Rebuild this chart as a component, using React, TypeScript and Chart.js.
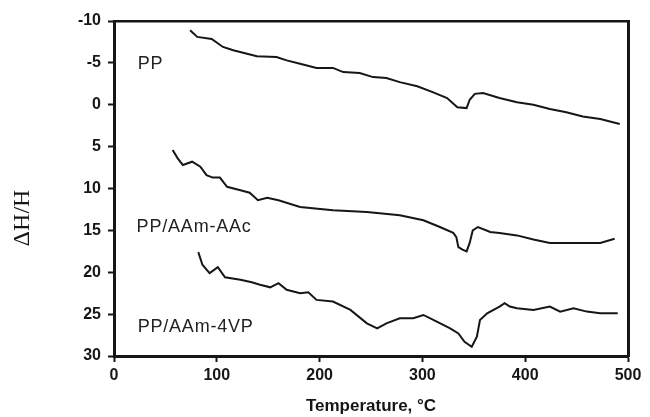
import React, { useEffect, useRef } from "react";
import { Chart, registerables } from "chart.js";

Chart.register(...registerables);

// ---- data ----
const ppX = [74, 81, 95, 106, 116, 139, 158, 168, 181, 197, 213, 223, 239, 252, 265, 278, 295, 310, 324, 334, 343, 346, 351, 359, 375, 392, 408, 424, 440, 456, 473, 492];
const ppY = [-8.9, -8.1, -7.85, -6.9, -6.5, -5.8, -5.7, -5.3, -4.9, -4.4, -4.4, -3.9, -3.8, -3.3, -3.2, -2.7, -2.2, -1.5, -0.8, 0.3, 0.4, -0.6, -1.3, -1.4, -0.8, -0.3, 0, 0.5, 0.9, 1.4, 1.7, 2.3];

const aacX = [57, 62, 67, 76, 84, 90, 96, 103, 110, 123, 132, 140, 149, 160, 181, 213, 246, 278, 301, 317, 330, 333, 335, 339, 343, 346, 349, 354, 366, 375, 392, 408, 424, 440, 456, 473, 487];
const aacY = [5.4, 6.4, 7.2, 6.8, 7.4, 8.4, 8.7, 8.7, 9.8, 10.2, 10.5, 11.4, 11.1, 11.4, 12.2, 12.6, 12.8, 13.2, 13.8, 14.6, 15.3, 15.8, 17.0, 17.3, 17.5, 16.5, 15.0, 14.6, 15.2, 15.3, 15.6, 16.1, 16.5, 16.5, 16.5, 16.5, 16.0];

const vpX = [82, 86, 93, 101, 108, 123, 134, 142, 152, 160, 168, 181, 189, 197, 213, 230, 246, 256, 265, 278, 291, 301, 314, 327, 335, 341, 348, 353, 356, 363, 375, 380, 385, 392, 408, 424, 434, 447, 460, 473, 490];
const vpY = [17.6, 19.1, 20.1, 19.4, 20.6, 20.9, 21.2, 21.5, 21.8, 21.3, 22.1, 22.5, 22.4, 23.3, 23.5, 24.5, 26.1, 26.7, 26.1, 25.5, 25.5, 25.1, 25.9, 26.7, 27.3, 28.3, 28.9, 27.7, 25.7, 24.9, 24.1, 23.7, 24.1, 24.3, 24.5, 24.1, 24.7, 24.3, 24.7, 24.9, 24.9];

const seriesNames = ["PP", "PP/AAm-AAc", "PP/AAm-4VP"];
const labelX = [23, 22, 23];
const labelY = [-4.9, 14.6, 26.5];

const xMin = 0, xMax = 500, xStep = 100;
const yMin = -10, yMax = 30, yStep = 5;
const xTitle = "Temperature, °C";
const yTitle = "ΔH/H";

const INK = "#161616";
const SANS = '"Liberation Sans", Arial, sans-serif';
const SERIF = '"Liberation Serif", "Times New Roman", serif';

const zip = (xs: number[], ys: number[]) => xs.map((x, i) => ({ x, y: ys[i] }));

const annotPlugin = {
  id: "annot",
  afterDatasetsDraw(chart: any) {
    const { ctx, scales } = chart;
    const x = scales.x, y = scales.y;
    ctx.save();
    ctx.fillStyle = "#222";
    ctx.font = `18px ${SANS}`;
    (ctx as any).letterSpacing = "0.8px";
    ctx.textAlign = "left";
    ctx.textBaseline = "middle";
    seriesNames.forEach((t, i) => {
      ctx.fillText(t, x.getPixelForValue(labelX[i]), y.getPixelForValue(labelY[i]));
    });
    (ctx as any).letterSpacing = "0px";
    ctx.translate(23, 218);
    ctx.rotate(-Math.PI / 2);
    ctx.font = `24px ${SERIF}`;
    ctx.textAlign = "center";
    ctx.fillStyle = INK;
    ctx.fillText(yTitle, 0, 0);
    ctx.restore();
  },
};

export default function App() {
  const ref = useRef<HTMLCanvasElement | null>(null);
  useEffect(() => {
    document.body.style.margin = "0";
    const canvas = ref.current!;
    const mk = (xs: number[], ys: number[]) => ({
      data: zip(xs, ys),
      borderColor: INK,
      borderWidth: 2,
      pointRadius: 0,
      tension: 0,
      fill: false,
    });
    const tickFont = { family: SANS, size: 16, weight: "bold" as const };
    const chart = new Chart(canvas, {
      type: "line",
      data: {
        datasets: [mk(ppX, ppY), mk(aacX, aacY), mk(vpX, vpY)],
      },
      options: {
        animation: false,
        responsive: false,
        layout: { padding: { left: 0, right: 22, top: 21, bottom: 0 } },
        plugins: { legend: { display: false }, tooltip: { enabled: false } },
        scales: {
          x: {
            type: "linear",
            position: "bottom",
            min: xMin,
            max: xMax,
            ticks: { stepSize: xStep, font: tickFont, color: INK, padding: 4, maxRotation: 0 },
            grid: { display: true, drawOnChartArea: false, drawTicks: true, tickLength: 6, tickWidth: 2, color: INK },
            border: { display: true, width: 3, color: INK },
            title: { display: true, text: xTitle, font: { family: SANS, size: 17, weight: "bold" }, color: INK, padding: 0 },
            afterFit(s: any) { s.height = 61; },
          },
          y: {
            type: "linear",
            position: "left",
            min: yMin,
            max: yMax,
            reverse: true,
            ticks: { stepSize: yStep, font: tickFont, color: INK, padding: 7 },
            grid: { display: true, drawOnChartArea: false, drawTicks: true, tickLength: 6, tickWidth: 2, color: INK },
            border: { display: true, width: 3, color: INK },
            afterFit(s: any) { s.width = 114; },
          },
          x2: {
            type: "linear",
            position: "top",
            min: xMin,
            max: xMax,
            ticks: { display: false },
            grid: { display: false },
            border: { display: true, width: 2.5, color: INK },
            afterFit(s: any) { s.height = 0; },
          },
          y2: {
            type: "linear",
            position: "right",
            min: yMin,
            max: yMax,
            reverse: true,
            ticks: { display: false },
            grid: { display: false },
            border: { display: true, width: 3, color: INK },
            afterFit(s: any) { s.width = 0; },
          },
        },
      } as any,
      plugins: [annotPlugin],
    });
    return () => chart.destroy();
  }, []);
  return (
    <div style={{ width: 650, height: 417, background: "#fff" }}>
      <canvas ref={ref} width={650} height={417} style={{ display: "block" }} />
    </div>
  );
}
